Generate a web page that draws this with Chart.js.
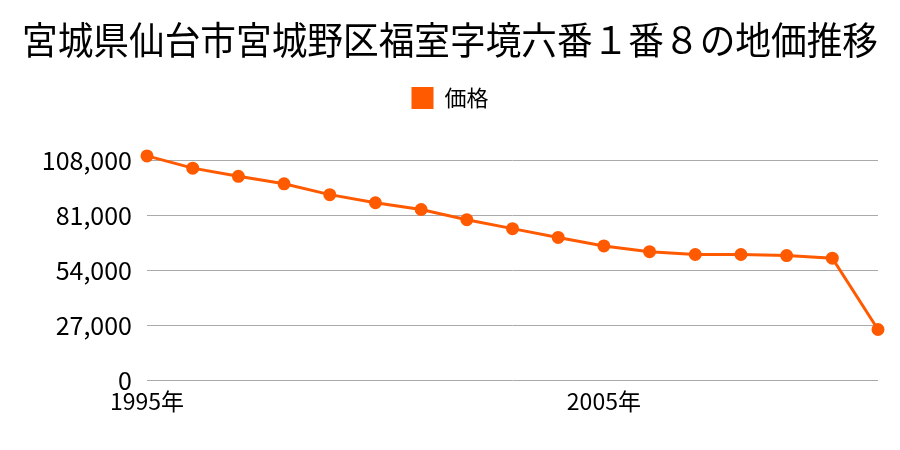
<!DOCTYPE html>
<html>
<head>
<meta charset="utf-8">
<script src="https://cdn.jsdelivr.net/npm/chart.js@4/dist/chart.umd.min.js"></script>
<style>
  html, body { margin: 0; padding: 0; background: #fff; }
  #wrap { width: 900px; height: 450px; position: relative; }
</style>
</head>
<body>
<div id="wrap"><canvas id="priceChart"></canvas></div>
<script>
const titleText = '宮城県仙台市宮城野区福室字境六番１番８の地価推移';
const seriesName = '価格';
const years = ['1995年', '1996年', '1997年', '1998年', '1999年', '2000年', '2001年', '2002年', '2003年',
    '2004年', '2005年', '2006年', '2007年', '2008年', '2009年', '2010年', '2011年'];
const prices = [110000, 104000, 100000, 96300, 91000, 87000, 83700, 78700, 74300,
    70000, 65800, 63000, 61600, 61600, 61100, 59800, 24800];
const yTicks = [0, 27000, 54000, 81000, 108000];

const fontFamily = '"Noto Sans CJK JP", "Noto Sans", sans-serif';
const orange = '#ff5a00';

// leave extra room under the legend, like the original
const legendSpacer = {
    id: 'legendSpacer',
    beforeInit(chart) {
        const fit = chart.legend.fit;
        chart.legend.fit = function () {
            fit.bind(chart.legend)();
            this.height += 41;
        };
    }
};

const ctx = document.getElementById('priceChart').getContext('2d');
new Chart(ctx, {
    type: 'line',
    data: {
        labels: years,
        datasets: [{
            label: seriesName,
            data: prices,
            borderColor: orange,
            backgroundColor: orange,
            borderWidth: 3,
            pointRadius: 5,
            pointHoverRadius: 5,
            tension: 0,
            clip: false
        }]
    },
    plugins: [legendSpacer],
    options: {
        responsive: true,
        maintainAspectRatio: false,
        animation: false,
        layout: {
            padding: { left: 22, right: 22, top: 9, bottom: 0 }
        },
        plugins: {
            title: {
                display: true,
                text: titleText,
                color: '#000',
                font: { family: fontFamily, size: 37.5, weight: 'normal' },
                padding: { top: 8, bottom: 11 }
            },
            legend: {
                display: true,
                labels: {
                    color: '#000',
                    font: { family: fontFamily, size: 22 },
                    boxWidth: 22,
                    boxHeight: 22,
                    padding: 14,
                    generateLabels: chart => [{
                        text: seriesName,
                        fillStyle: orange,
                        strokeStyle: orange,
                        lineWidth: 0,
                        datasetIndex: 0
                    }]
                }
            },
            tooltip: { enabled: false }
        },
        scales: {
            x: {
                offset: false,
                grid: { display: false, drawTicks: false },
                border: { display: false },
                afterFit: scale => { scale.height = 70; },
                ticks: {
                    autoSkip: false,
                    maxRotation: 0,
                    padding: 7,
                    color: '#000',
                    font: { family: fontFamily, size: 23 },
                    callback: function (value, index) {
                        return index % 10 === 0 ? years[index] : '';
                    }
                }
            },
            y: {
                min: 0,
                max: 108000,
                afterBuildTicks: scale => {
                    scale.ticks = yTicks.map(v => ({ value: v }));
                },
                afterFit: scale => { scale.width = 125; },
                grid: { color: '#aaaaaa', drawTicks: false, lineWidth: 1 },
                border: { display: false },
                ticks: {
                    padding: 15,
                    color: '#000',
                    font: { family: fontFamily, size: 25 },
                    callback: value => value.toLocaleString('en-US')
                }
            }
        }
    }
});
</script>
</body>
</html>
